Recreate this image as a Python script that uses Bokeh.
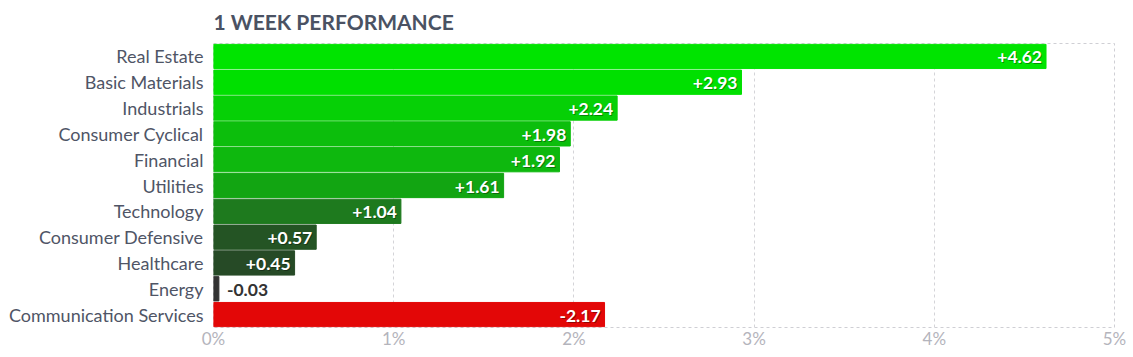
from bokeh.plotting import figure
from bokeh.models import ColumnDataSource, FactorRange, FixedTicker, PrintfTickFormatter
from bokeh.core.properties import value
from bokeh.embed import file_html
from bokeh.resources import INLINE

categories = ["Real Estate", "Basic Materials", "Industrials", "Consumer Cyclical",
              "Financial", "Utilities", "Technology", "Consumer Defensive",
              "Healthcare", "Energy", "Communication Services"]
changes = [4.62, 2.93, 2.24, 1.98, 1.92, 1.61, 1.04, 0.57, 0.45, -0.03, -2.17]
x_ticks = [0, 1, 2, 3, 4, 5]
title_text = "1 WEEK PERFORMANCE"

bar_colors = ["#00e400", "#00e000", "#06d006", "#0cbe0c", "#0eb80e", "#12a512",
              "#1e7a1e", "#245424", "#264a26", "#333333", "#e30707"]

lengths = [abs(v) for v in changes]
labels = [("+%.2f" % v) if v > 0 else ("%.2f" % v) for v in changes]
inside = [abs(v) >= 0.3 for v in changes]

src = ColumnDataSource(dict(cat=categories, length=lengths, color=bar_colors, label=labels))
src_in = ColumnDataSource(dict(
    cat=[c for c, i in zip(categories, inside) if i],
    length=[l for l, i in zip(lengths, inside) if i],
    label=[t for t, i in zip(labels, inside) if i]))
src_out = ColumnDataSource(dict(
    cat=[c for c, i in zip(categories, inside) if not i],
    length=[l for l, i in zip(lengths, inside) if not i],
    label=[t for t, i in zip(labels, inside) if not i]))

p = figure(width=1133, height=357, output_backend="svg", toolbar_location=None,
           y_range=FactorRange(factors=list(reversed(categories))),
           x_range=(0, 5),
           min_border_left=213, min_border_right=19, min_border_bottom=30, min_border_top=0)

p.title.text = title_text
p.title.text_font = "Lato"
p.title.text_font_size = "21px"
p.title.text_font_style = "bold"
p.title.text_color = "#4a5263"
p.title.align = "left"
p.title.vertical_align = "top"
p.title.standoff = 16

p.hbar(y="cat", left=0, right="length", height=0.94, color="color", source=src)

p.text(x="length", y="cat", text="label", source=src_in, text_align="right",
       text_baseline="middle", x_offset=-3, y_offset=2, text_color="#000000", text_alpha=0.35,
       text_font=value("Lato"), text_font_size="17.5px", text_font_style="bold")
p.text(x="length", y="cat", text="label", source=src_in, text_align="right",
       text_baseline="middle", x_offset=-4, y_offset=1, text_color="#ffffff",
       text_font=value("Lato"), text_font_size="17.5px", text_font_style="bold")
p.text(x="length", y="cat", text="label", source=src_out, text_align="left",
       text_baseline="middle", x_offset=8, y_offset=1, text_color="#333333",
       text_font=value("Lato"), text_font_size="17.5px", text_font_style="bold")

p.outline_line_color = "#cfcfd4"
p.outline_line_dash = "3 3"
p.outline_line_width = 1

p.xgrid.grid_line_color = "#d4d4d8"
p.xgrid.grid_line_dash = "3 3"
p.ygrid.grid_line_color = None

p.xaxis.ticker = FixedTicker(ticks=x_ticks)
p.xaxis.formatter = PrintfTickFormatter(format="%d%%")
p.xaxis.axis_line_color = None
p.xaxis.major_tick_line_color = None
p.xaxis.minor_tick_line_color = None
p.xaxis.major_label_text_font = "Lato"
p.xaxis.major_label_text_font_size = "17px"
p.xaxis.major_label_text_color = "#b4b4bc"
p.xaxis.major_label_standoff = -6

p.yaxis.axis_line_color = None
p.yaxis.major_tick_line_color = None
p.yaxis.minor_tick_line_color = None
p.yaxis.major_label_text_font = "Lato"
p.yaxis.major_label_text_font_size = "18px"
p.yaxis.major_label_text_color = "#4f5566"
p.yaxis.major_label_standoff = 4

open("out.html", "w").write(file_html(p, INLINE))
